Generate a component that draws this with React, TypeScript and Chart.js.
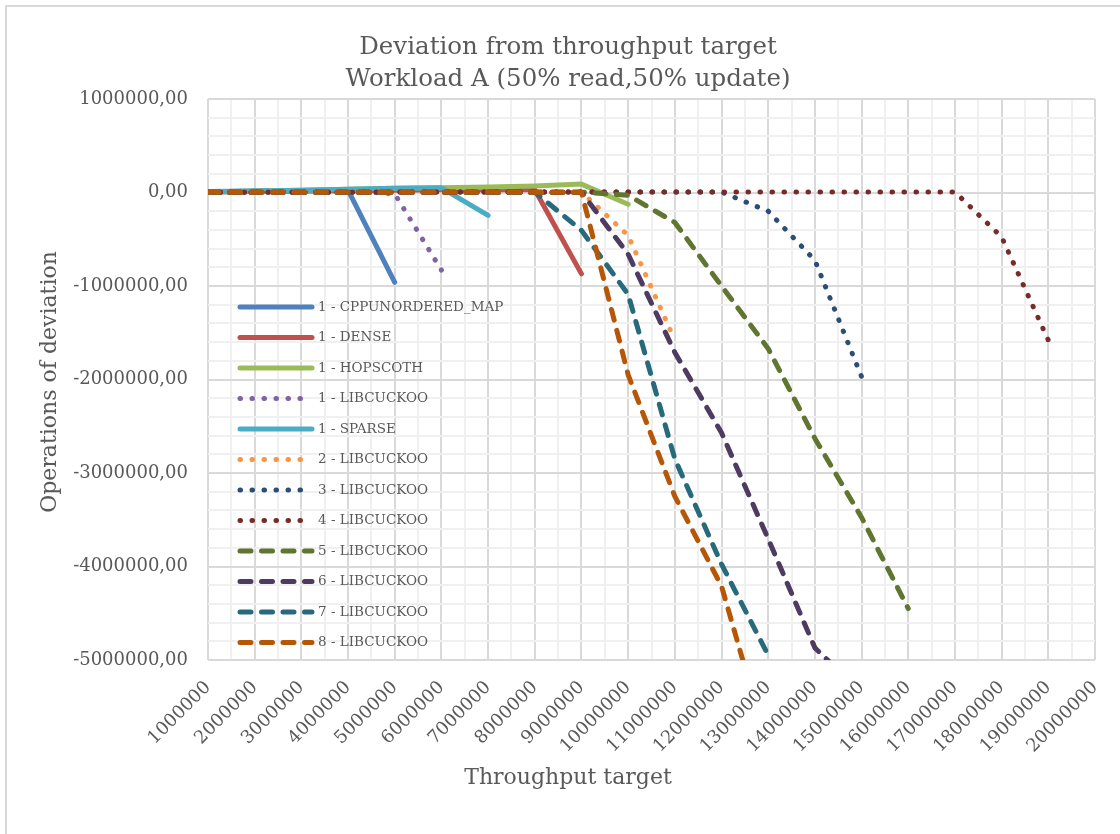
import React, { useEffect, useRef } from 'react';
import { Chart, registerables } from 'chart.js';

Chart.register(...registerables);

const FONT = '"DejaVu Serif", serif';
const TEXT_COLOR = '#595959';

// Categories (throughput targets) and axis tick labels
const throughputTargets = [
  1000000, 2000000, 3000000, 4000000, 5000000, 6000000, 7000000, 8000000, 9000000, 10000000,
  11000000, 12000000, 13000000, 14000000, 15000000, 16000000, 17000000, 18000000, 19000000, 20000000,
];
const yTickValues = [1000000, 0, -1000000, -2000000, -3000000, -4000000, -5000000];

const titleLines = ['Deviation from throughput target', 'Workload A (50% read,50% update)'];
const xAxisTitle = 'Throughput target';
const yAxisTitle = 'Operations of deviation';

// Series values (one entry per throughput target, null = no point)
const cppUnorderedMap1 = [10000, 15000, 20000, 25000, -960000, null, null, null, null, null, null, null, null, null, null, null, null, null, null, null];
const dense1 = [5000, 10000, 15000, 20000, 25000, 30000, 30000, 30000, -870000, null, null, null, null, null, null, null, null, null, null, null];
const hopscoth1 = [5000, 15000, 25000, 35000, 45000, 50000, 60000, 70000, 90000, -125000, null, null, null, null, null, null, null, null, null, null];
const libcuckoo1 = [5000, 10000, 15000, 20000, -15000, -830000, null, null, null, null, null, null, null, null, null, null, null, null, null, null];
const sparse1 = [5000, 15000, 25000, 35000, 45000, 50000, -245000, null, null, null, null, null, null, null, null, null, null, null, null, null];
const libcuckoo2 = [2000, 3000, 4000, 4000, 5000, 5000, 6000, 6000, 6000, -460000, -1580000, null, null, null, null, null, null, null, null, null];
const libcuckoo3 = [2000, 3000, 3000, 4000, 4000, 5000, 5000, 5000, 5000, 5000, 5000, 5000, -200000, -725000, -1970000, null, null, null, null, null];
const libcuckoo4 = [3000, 3000, 4000, 4000, 5000, 5000, 5000, 6000, 6000, 6000, 6000, 6000, 6000, 6000, 6000, 6000, 6000, -475000, -1580000, null];
const libcuckoo5 = [2000, 2000, 3000, 3000, 3000, 4000, 4000, 4000, 4000, -30000, -320000, -1000000, -1670000, -2630000, -3475000, -4450000, null, null, null, null];
const libcuckoo6 = [2000, 2000, 3000, 3000, 3000, 4000, 4000, 4000, 4000, -660000, -1710000, -2570000, -3705000, -4870000, -5350000, null, null, null, null, null];
const libcuckoo7 = [2000, 2000, 3000, 3000, 3000, 3000, 4000, 4000, -405000, -1090000, -2850000, -3975000, -4950000, null, null, null, null, null, null, null];
const libcuckoo8 = [2000, 2000, 2000, 3000, 3000, 3000, 3000, 3000, 3000, -1950000, -3250000, -4210000, -5950000, null, null, null, null, null, null, null];

const seriesNames = [
  '1 - CPPUNORDERED_MAP', '1 - DENSE', '1 - HOPSCOTH', '1 - LIBCUCKOO', '1 - SPARSE', '2 - LIBCUCKOO',
  '3 - LIBCUCKOO', '4 - LIBCUCKOO', '5 - LIBCUCKOO', '6 - LIBCUCKOO', '7 - LIBCUCKOO', '8 - LIBCUCKOO',
];
const seriesValues = [
  cppUnorderedMap1, dense1, hopscoth1, libcuckoo1, sparse1, libcuckoo2,
  libcuckoo3, libcuckoo4, libcuckoo5, libcuckoo6, libcuckoo7, libcuckoo8,
];
const seriesColors = [
  '#4F81BD', '#C0504D', '#9BBB59', '#8064A2', '#4BACC6', '#F79646',
  '#2C4D75', '#772C2A', '#5F7530', '#4D3B62', '#276A7C', '#B65708',
];
const seriesStyles = ['solid', 'solid', 'solid', 'dot', 'solid', 'dot', 'dot', 'dot', 'dash', 'dash', 'dash', 'dash'];

const LINE_WIDTH = 5;
const dashFor = (style: string) => (style === 'dot' ? [0.5, 11.5] : style === 'dash' ? [11, 10.5] : []);

const overlayPlugin = {
  id: 'overlay',
  afterDatasetsDraw(chart: any) {
    const ctx = chart.ctx as CanvasRenderingContext2D;
    ctx.save();
    // Legend inside the plot area
    const lx0 = 240;
    const lx1 = 312;
    const ty0 = 307;
    const dy = 30.5;
    seriesNames.forEach((name, i) => {
      const y = ty0 + i * dy;
      ctx.save();
      ctx.strokeStyle = seriesColors[i];
      ctx.lineWidth = LINE_WIDTH;
      ctx.lineCap = 'round';
      ctx.setLineDash(dashFor(seriesStyles[i]));
      ctx.beginPath();
      ctx.moveTo(lx0, y);
      ctx.lineTo(lx1, y);
      ctx.stroke();
      ctx.restore();
      ctx.fillStyle = TEXT_COLOR;
      ctx.font = `13.5px ${FONT}`;
      ctx.textAlign = 'left';
      ctx.textBaseline = 'middle';
      ctx.fillText(name, lx1 + 6, y);
    });
    // Axis titles
    ctx.fillStyle = TEXT_COLOR;
    ctx.font = `22px ${FONT}`;
    ctx.textAlign = 'center';
    ctx.textBaseline = 'middle';
    ctx.fillText(xAxisTitle, 568, 778);
    ctx.translate(50, 382);
    ctx.rotate(-Math.PI / 2);
    ctx.fillText(yAxisTitle, 0, 0);
    ctx.restore();
  },
};

const fmtY = (v: number) => v.toFixed(2).replace('.', ',');

export default function App() {
  const ref = useRef<HTMLCanvasElement>(null);
  useEffect(() => {
    if (!ref.current) return;
    const datasets = seriesNames.map((name, i) => ({
      label: name,
      data: seriesValues[i].map((v, k) => ({ x: throughputTargets[k], y: v })),
      borderColor: seriesColors[i],
      backgroundColor: seriesColors[i],
      borderWidth: LINE_WIDTH,
      borderDash: dashFor(seriesStyles[i]),
      borderCapStyle: 'round' as const,
      borderJoinStyle: 'round' as const,
      pointRadius: 0,
      pointHoverRadius: 0,
      tension: 0,
      fill: false,
      spanGaps: false,
      order: seriesNames.length - i,
    }));
    const chart = new Chart(ref.current, {
      type: 'line',
      data: { datasets },
      plugins: [overlayPlugin],
      options: {
        animation: false,
        responsive: false,
        devicePixelRatio: 1,
        layout: { padding: { left: 41, right: 25, top: 0, bottom: 0 } },
        plugins: {
          legend: { display: false },
          tooltip: { enabled: false },
          title: {
            display: true,
            text: titleLines,
            color: TEXT_COLOR,
            font: { family: FONT, size: 24.5, weight: 'normal', lineHeight: 1.29 },
            padding: { top: 32, bottom: 3.8 },
          },
        },
        scales: {
          x: {
            type: 'linear',
            min: 1000000,
            max: 20000000,
            afterFit: (s: any) => { s.height = 174; s.paddingRight = 0; s.paddingLeft = 0; },
            border: { display: false },
            grid: {
              drawTicks: false,
              lineWidth: 2,
              color: (c: any) => (throughputTargets.includes(c.tick?.value) ? '#d9d9d9' : '#f0f0f0'),
            },
            ticks: {
              stepSize: 500000,
              autoSkip: false,
              minRotation: 45,
              maxRotation: 45,
              padding: 17,
              color: TEXT_COLOR,
              font: { family: FONT, size: 18 },
              callback: (v: any) => (throughputTargets.includes(Number(v)) ? String(v) : ''),
            },
          },
          y: {
            type: 'linear',
            min: -5000000,
            max: 1000000,
            afterFit: (s: any) => { s.width = 167; s.paddingTop = 0; s.paddingBottom = 0; },
            border: { display: false },
            grid: {
              drawTicks: false,
              lineWidth: 2,
              color: (c: any) => (yTickValues.includes(c.tick?.value) ? '#d9d9d9' : '#f0f0f0'),
            },
            ticks: {
              stepSize: 200000,
              autoSkip: false,
              padding: 20,
              color: TEXT_COLOR,
              font: { family: FONT, size: 18 },
              callback: (v: any) => (yTickValues.includes(Number(v)) ? fmtY(Number(v)) : ''),
            },
          },
        },
      } as any,
    });
    return () => chart.destroy();
  }, []);
  return (
    <div style={{ position: 'absolute', left: 0, top: 0, width: 1120, height: 834, overflow: 'hidden', background: '#fff' }}>
      <div style={{ position: 'absolute', left: 5, top: 5, width: 1150, height: 860, border: '2px solid #d9d9d9', boxSizing: 'border-box' }} />
      <canvas ref={ref} width={1120} height={834} style={{ position: 'absolute', left: 0, top: 0, width: 1120, height: 834 }} />
    </div>
  );
}
